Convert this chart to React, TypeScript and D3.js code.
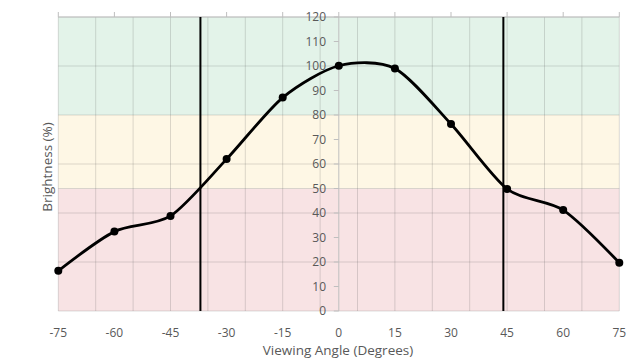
import React from "react";
import * as d3 from "d3";

const angles = [-75, -60, -45, -30, -15, 0, 15, 30, 45, 60, 75];
const brightness = [16.4, 32.4, 38.8, 62.0, 87.1, 100.1, 99.0, 76.3, 49.8, 41.2, 19.7];
const xTicks = [-75, -60, -45, -30, -15, 0, 15, 30, 45, 60, 75];
const xGrid = [-75, -65, -55, -45, -35, -25, -15, -5, 5, 15, 25, 35, 45, 55, 65, 75];
const yTicks = [0, 10, 20, 30, 40, 50, 60, 70, 80, 90, 100, 110, 120];
const yGrid = [0, 20, 40, 50, 60, 80, 100, 120];
const bandLimits = [0, 50, 80, 120];
const bandColors = ["#f8e3e4", "#fef7e5", "#e3f3e9"];
const markerAngles = [-37, 44];

const W = 644, H = 360;
const L = 58.3, R = 619.3, T = 17, B = 311;

export default function App() {
  const x = d3.scaleLinear().domain([-75, 75]).range([L, R]);
  const y = d3.scaleLinear().domain([0, 120]).range([B, T]);
  const pts = angles.map((a, i) => [a, brightness[i]] as [number, number]);
  const line = d3
    .line<[number, number]>()
    .x((d) => x(d[0]))
    .y((d) => y(d[1]))
    .curve(d3.curveCardinal.tension(0.2));
  const font = "'Open Sans', sans-serif";
  const gridColor = "rgba(80,80,80,0.2)";
  return (
    <svg width={W} height={H} style={{ position: "absolute", left: 0, top: 0 }} fontFamily={font}>
      <rect x={0} y={0} width={W} height={H} fill="#ffffff" />
      {bandColors.map((c, i) => (
        <rect
          key={i}
          x={x(-75)}
          width={x(75) - x(-75)}
          y={y(bandLimits[i + 1])}
          height={y(bandLimits[i]) - y(bandLimits[i + 1])}
          fill={c}
        />
      ))}
      {yGrid.map((v) => (
        <line key={"yg" + v} x1={x(-75)} x2={x(75)} y1={y(v)} y2={y(v)} stroke={gridColor} strokeWidth={1} />
      ))}
      {xGrid.map((v) => (
        <line key={"xg" + v} x1={x(v)} x2={x(v)} y1={y(0)} y2={y(120)} stroke={gridColor} strokeWidth={1} />
      ))}
      <line x1={x(-75)} x2={x(75)} y1={y(120)} y2={y(120)} stroke="#bfbfbf" strokeWidth={1} />
      {xTicks.map((v) => (
        <line key={"xt" + v} x1={x(v)} x2={x(v)} y1={y(120) - 5} y2={y(120)} stroke="#bfbfbf" strokeWidth={1} />
      ))}
      <line x1={x(0)} x2={x(0)} y1={y(0)} y2={y(120)} stroke="#bfbfbf" strokeWidth={1} />
      {yTicks.map((v) => (
        <line key={"yt" + v} x1={x(0) - 5} x2={x(0)} y1={y(v)} y2={y(v)} stroke="#bfbfbf" strokeWidth={1} />
      ))}
      {yTicks.map((v) => (
        <text key={"yl" + v} x={326} y={y(v)} dy="0.35em" textAnchor="end" fontSize={12} fill="#595959">
          {v}
        </text>
      ))}
      {xTicks.map((v) => (
        <text key={"xl" + v} x={x(v)} y={333} dy="0.35em" textAnchor="middle" fontSize={12} fill="#595959">
          {v}
        </text>
      ))}
      {markerAngles.map((a) => (
        <line key={"m" + a} x1={x(a)} x2={x(a)} y1={y(120)} y2={y(0)} stroke="#000" strokeWidth={2} />
      ))}
      <path d={line(pts) || ""} fill="none" stroke="#000" strokeWidth={2.8} />
      {pts.map((p, i) => (
        <circle key={"p" + i} cx={x(p[0])} cy={y(p[1])} r={4} fill="#000" />
      ))}
      <text x={338} y={350} dy="0.35em" textAnchor="middle" fontSize={13.5} fill="#595959">
        Viewing Angle (Degrees)
      </text>
      <text
        transform={`translate(47,${(y(0) + y(120)) / 2 + 3}) rotate(-90)`}
        textAnchor="middle"
        dy="0.35em"
        fontSize={13.5}
        fill="#595959"
      >
        Brightness (%)
      </text>
    </svg>
  );
}
